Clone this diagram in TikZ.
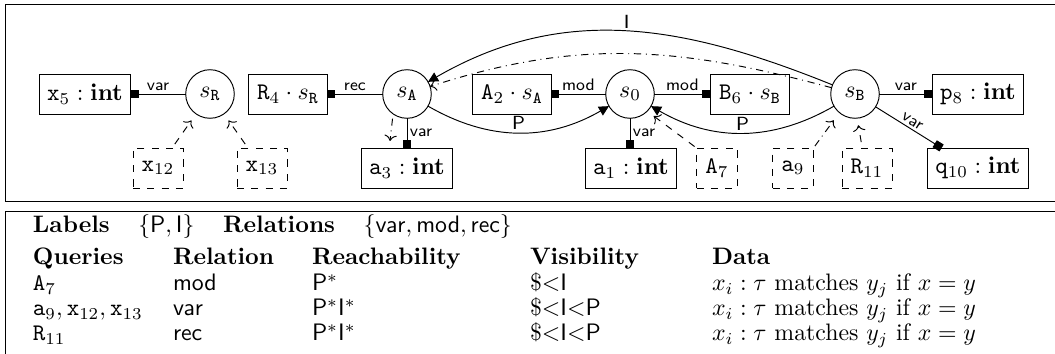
\documentclass[tikz,border=0pt]{standalone}
\usetikzlibrary{arrows.meta,calc}
\begin{document}
\begin{tikzpicture}[x=0.42pt,y=0.42pt,
  every node/.style={inner sep=0pt, outer sep=0pt},
  tbox/.style={draw, minimum height=16.8pt, inner xsep=3pt, font=\normalsize},
  qbox/.style={tbox, dashed},
  sc/.style={circle, draw, minimum size=20.4pt, inner sep=0pt},
  rel/.style={-{Square[length=3.4pt,width=3.4pt]}},
  lbl/.style={font=\sffamily\scriptsize, inner sep=1.2pt},
  elbl/.style={font=\sffamily\footnotesize, inner sep=1.2pt},
  edgeline/.style={-{Triangle[length=4.2pt,width=4.2pt]}},
  query/.style={dashed, -{To}},
  res/.style={dash dot, -{To}},
  cell/.style={anchor=base west, inner sep=0pt}
]
\useasboundingbox (0,0) rectangle (1055,-354);
\draw (5,-4) rectangle (1065,-201);
\draw (5,-211) rectangle (1065,-365);

% scopes and declarations
\node[tbox, minimum width=38.2pt] (x5) at (85,-94) {$\mathtt{x}_5 : \mathbf{int}$};
\node[sc] (sR) at (210,-94) {$s_{\mathtt{R}}$};
\node[tbox, minimum width=32.8pt] (R4) at (288,-94) {$\mathtt{R}_4 \cdot s_{\mathtt{R}}$};
\node[sc] (sA) at (407,-94) {$s_{\mathtt{A}}$};
\node[tbox, minimum width=32.8pt] (A2) at (512,-94) {$\mathtt{A}_2 \cdot s_{\mathtt{A}}$};
\node[sc] (s0) at (630,-94) {$s_0$};
\node[tbox, minimum width=33.2pt] (B6) at (750,-94) {$\mathtt{B}_6 \cdot s_{\mathtt{B}}$};
\node[sc] (sB) at (855,-94) {$s_{\mathtt{B}}$};
\node[tbox, minimum width=38.2pt] (p8) at (978,-94) {$\mathtt{p}_8 : \mathbf{int}$};
\node[qbox, minimum width=21pt] (x12) at (158,-168) {$\mathtt{x}_{12}$};
\node[qbox, minimum width=21pt] (x13) at (262,-168) {$\mathtt{x}_{13}$};
\node[tbox, minimum width=38.2pt] (a3) at (407,-168) {$\mathtt{a}_3 : \mathbf{int}$};
\node[tbox, minimum width=38.6pt] (a1) at (631,-168) {$\mathtt{a}_1 : \mathbf{int}$};
\node[qbox, minimum width=17.2pt] (A7) at (717,-168) {$\mathtt{A}_7$};
\node[qbox, minimum width=17.2pt] (a9) at (793,-168) {$\mathtt{a}_9$};
\node[qbox, minimum width=21pt] (R11) at (867,-168) {$\mathtt{R}_{11}$};
\node[tbox, minimum width=42.4pt] (q10) at (978,-168) {$\mathtt{q}_{10} : \mathbf{int}$};

% relation edges
\draw[rel] (sR) -- node[lbl,above]{var} (x5);
\draw[rel] (sA) -- node[lbl,above]{rec} (R4);
\draw[rel] (s0) -- node[lbl,above]{mod} (A2);
\draw[rel] (s0) -- node[lbl,above]{mod} (B6);
\draw[rel] (sA) -- node[lbl,right]{var} (a3);
\draw[rel] (s0) -- node[lbl,right]{var} (s0 |- a1.north);
\draw[rel] (sB) -- node[lbl,above]{var} (p8);
\coordinate (q10in) at ([xshift=5.9pt]q10.north west);
\draw[rel] (sB) -- node[lbl,above,sloped]{var} (q10in);

% labelled edges
\draw[edgeline] (sB) to[out=158,in=30] node[elbl,above]{I} (sA);
\draw[res] (sB) to[out=165,in=18] (sA);
\draw[edgeline] (sA) to[out=-30,in=-150] node[elbl,above]{P} (s0);
\draw[edgeline] (sB) to[out=-150,in=-30] node[elbl,above]{P} (s0);

% queries
\draw[query, shorten <=2pt, shorten >=3.4pt] (x12) -- (sR);
\draw[query, shorten <=2pt, shorten >=3.4pt] (x13) -- (sR);
\draw[query, shorten <=1pt, shorten >=3.4pt] (A7.north west) -- (s0.-45);
\draw[res, shorten <=1pt, shorten >=4pt] (a9.north east) -- (sB.-130);
\draw[query, shorten <=2.5pt, shorten >=3pt] ([xshift=-2pt]R11.north) -- (sB.-85);
\coordinate (a3q) at (390,-141);
\draw[res, shorten <=2pt] (sA.235) -- (a3q);

% table
\node[cell] (t1) at (33,-233) {\textbf{Labels}\hspace{12pt}$\{\mathsf{P}, \mathsf{I}\}$\hspace{12pt}\textbf{Relations}\hspace{12pt}$\{\mathsf{var}, \mathsf{mod}, \mathsf{rec}\}$};
\node[cell] at (33,-265) {\textbf{Queries}};
\node[cell] at (173,-265) {\textbf{Relation}};
\node[cell] at (312,-265) {\textbf{Reachability}};
\node[cell] at (530,-265) {\textbf{Visibility}};
\node[cell] at (712,-265) {\textbf{Data}};
\node[cell] at (33,-291) {$\mathtt{A}_7$};
\node[cell] at (173,-291) {$\mathsf{mod}$};
\node[cell] at (312,-291) {$\mathsf{P}^*$};
\node[cell] at (530,-291) {$\${<}\mathsf{I}$};
\node[cell] at (712,-291) {$x_i : \tau$ matches $y_j$ if $x = y$};
\node[cell] at (33,-316) {$\mathtt{a}_9, \mathtt{x}_{12}, \mathtt{x}_{13}$};
\node[cell] at (173,-316) {$\mathsf{var}$};
\node[cell] at (312,-316) {$\mathsf{P}^*\mathsf{I}^*$};
\node[cell] at (530,-316) {$\${<}\mathsf{I}{<}\mathsf{P}$};
\node[cell] at (712,-316) {$x_i : \tau$ matches $y_j$ if $x = y$};
\node[cell] at (33,-341) {$\mathtt{R}_{11}$};
\node[cell] at (173,-341) {$\mathsf{rec}$};
\node[cell] at (312,-341) {$\mathsf{P}^*\mathsf{I}^*$};
\node[cell] at (530,-341) {$\${<}\mathsf{I}{<}\mathsf{P}$};
\node[cell] at (712,-341) {$x_i : \tau$ matches $y_j$ if $x = y$};
\end{tikzpicture}
\end{document}
